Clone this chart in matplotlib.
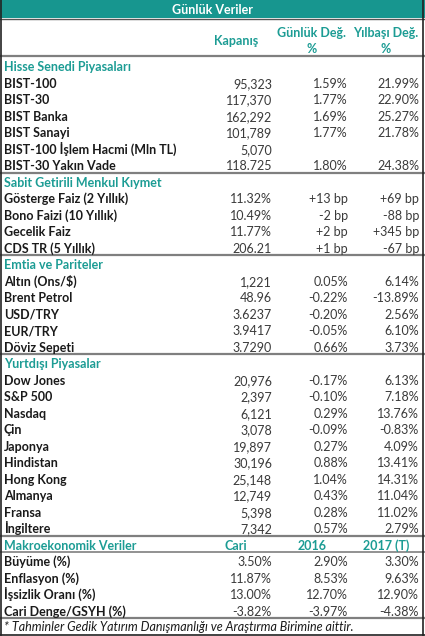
import matplotlib.pyplot as plt

# Hisse Senedi Piyasaları
hisse_names = ['BIST-100', 'BIST-30', 'BIST Banka', 'BIST Sanayi',
               'BIST-100 İşlem Hacmi (Mln TL)', 'BIST-30 Yakın Vade']
hisse_close = ['95,323', '117,370', '162,292', '101,789', '5,070', '118.725']
hisse_daily = ['1.59%', '1.77%', '1.69%', '1.77%', '', '1.80%']
hisse_ytd = ['21.99%', '22.90%', '25.27%', '21.78%', '', '24.38%']

# Sabit Getirili Menkul Kıymet
sabit_names = ['Gösterge Faiz (2 Yıllık)', 'Bono Faizi (10 Yıllık)',
               'Gecelik Faiz', 'CDS TR (5 Yıllık)']
sabit_close = ['11.32%', '10.49%', '11.77%', '206.21']
sabit_daily = ['+13 bp', '-2 bp', '+2 bp', '+1 bp']
sabit_ytd = ['+69 bp', '-88 bp', '+345 bp', '-67 bp']

# Emtia ve Pariteler
emtia_names = ['Altın (Ons/$)', 'Brent Petrol', 'USD/TRY', 'EUR/TRY', 'Döviz Sepeti']
emtia_close = ['1,221', '48.96', '3.6237', '3.9417', '3.7290']
emtia_daily = ['0.05%', '-0.22%', '-0.20%', '-0.05%', '0.66%']
emtia_ytd = ['6.14%', '-13.89%', '2.56%', '6.10%', '3.73%']

# Yurtdışı Piyasalar
yurt_names = ['Dow Jones', 'S&P 500', 'Nasdaq', 'Çin', 'Japonya', 'Hindistan',
              'Hong Kong', 'Almanya', 'Fransa', 'İngiltere']
yurt_close = ['20,976', '2,397', '6,121', '3,078', '19,897', '30,196',
              '25,148', '12,749', '5,398', '7,342']
yurt_daily = ['-0.17%', '-0.10%', '0.29%', '-0.09%', '0.27%', '0.88%',
              '1.04%', '0.43%', '0.28%', '0.57%']
yurt_ytd = ['6.13%', '7.18%', '13.76%', '-0.83%', '4.09%', '13.41%',
            '14.31%', '11.04%', '11.02%', '2.79%']

# Makroekonomik Veriler
makro_cols = ['Cari', '2016', '2017 (T)']
makro_names = ['Büyüme (%)', 'Enflasyon (%)', 'İşsizlik Oranı (%)', 'Cari Denge/GSYH (%)']
makro_cari = ['3.50%', '11.87%', '13.00%', '-3.82%']
makro_2016 = ['2.90%', '8.53%', '12.70%', '-3.97%']
makro_2017 = ['3.30%', '9.63%', '12.90%', '-4.38%']

sections = [
    ('Hisse Senedi Piyasaları', None, hisse_names, hisse_close, hisse_daily, hisse_ytd),
    ('Sabit Getirili Menkul Kıymet', None, sabit_names, sabit_close, sabit_daily, sabit_ytd),
    ('Emtia ve Pariteler', None, emtia_names, emtia_close, emtia_daily, emtia_ytd),
    ('Yurtdışı Piyasalar', None, yurt_names, yurt_close, yurt_daily, yurt_ytd),
    ('Makroekonomik Veriler', makro_cols, makro_names, makro_cari, makro_2016, makro_2017),
]

W, H = 425, 636
teal = '#17968f'
teal_txt = '#1c9c94'
line_gray = '#7f7f7f'
fam = ['Lato', 'DejaVu Sans']
fs = 9.0
base = 5.3  # baseline offset below row centre


def txt(x, y, s, **kw):
    opts = dict(fontsize=fs, va='baseline', family=fam)
    opts.update(kw)
    ax.text(x, y + base, s, **opts)


fig = plt.figure(figsize=(W / 100, H / 100), dpi=100)
ax = fig.add_axes([0, 0, 1, 1])
ax.set_xlim(0, W)
ax.set_ylim(H, 0)
ax.axis('off')

# title bar
ax.add_patch(plt.Rectangle((0, 0), W, 18, color=teal, lw=0))
ax.plot([0, W], [18.5, 18.5], color='#555555', lw=1)
txt(W / 2, 9, 'Günlük Veriler', color='white', fontweight='bold', ha='center')

x_lab = 4
x_right = [272, 348, 419]
x_center = [236, 312, 386]

hdr = dict(color=teal_txt, fontweight='bold', ha='center')
txt(x_center[0], 40, 'Kapanış', **hdr)
txt(x_center[1], 32, 'Günlük Değ.', **hdr)
txt(x_center[1], 48, '%', **hdr)
txt(x_center[2], 32, 'Yılbaşı Değ.', **hdr)
txt(x_center[2], 48, '%', **hdr)
ax.plot([0, W], [55.5, 55.5], color=line_gray, lw=1.6)

y0, dy = 66, 16.5
row = 0
for title, cols, names, c1, c2, c3 in sections:
    y = y0 + row * dy
    txt(x_lab, y, title, color=teal_txt, fontweight='bold', ha='left')
    if cols:
        for xc, c in zip(x_center, cols):
            txt(xc, y, c, **hdr)
        ax.plot([0, W], [y + 7.5, y + 7.5], color=line_gray, lw=1.2)
    row += 1
    for name, a, b, c in zip(names, c1, c2, c3):
        y = y0 + row * dy
        txt(x_lab, y, name, color='#1a1a1a', fontweight='bold', ha='left')
        for xr, v in zip(x_right, [a, b, c]):
            txt(xr, y, v, color='#3a3a3a', ha='right')
        row += 1
    ax.plot([0, W], [y + 7.5, y + 7.5], color=line_gray, lw=1.6)

txt(x_lab, 626, '* Tahminler Gedik Yatırım Danışmanlığı ve Araştırma Birimine aittir.',
    color='#1a1a1a', style='italic', ha='left')

# outer border
ax.plot([0.7, 0.7], [0, 635], color='#222222', lw=1.2)
ax.plot([423.5, 423.5], [0, 635], color='#222222', lw=1.2)
ax.plot([0, W], [635, 635], color='#222222', lw=1.2)

fig.savefig('out.png', dpi=100)
